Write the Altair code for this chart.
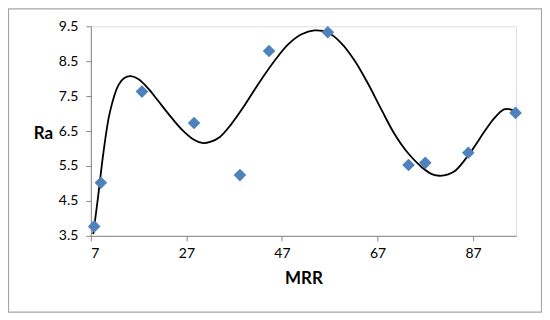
import altair as alt
import pandas as pd

# Scatter data (MRR vs Ra)
mrr = [7.7, 9.1, 17.7, 28.6, 38.2, 44.3, 56.6, 73.5, 77.0, 86.0, 95.9]
ra = [3.77, 5.02, 7.63, 6.73, 5.24, 8.79, 9.33, 5.53, 5.59, 5.88, 7.02]

# Trendline values
trend_x = [7.5, 8.5, 9.6, 11.0, 12.8, 14.0, 15.4, 17.0, 19.0, 21.0, 23.2, 26.0,
           28.5, 30.3, 32.0, 34.0, 36.4, 39.0, 42.3, 45.5, 48.3, 51.1, 53.8,
           56.6, 59.4, 62.2, 65.0, 67.8, 70.5, 73.2, 76.4, 78.5, 80.0, 81.8,
           83.4, 86.2, 89.7, 91.5, 93.5, 94.8, 95.9]
trend_y = [3.55, 4.6, 5.85, 7.05, 7.82, 8.02, 8.07, 7.98, 7.72, 7.38, 7.0, 6.55,
           6.26, 6.16, 6.19, 6.33, 6.7, 7.2, 7.9, 8.52, 8.98, 9.27, 9.38,
           9.32, 9.02, 8.52, 7.86, 7.12, 6.43, 5.9, 5.45, 5.26, 5.22, 5.26,
           5.38, 5.84, 6.55, 6.88, 7.12, 7.12, 7.05]

x_ticks = [7, 27, 47, 67, 87]
y_ticks = [3.5, 4.5, 5.5, 6.5, 7.5, 8.5, 9.5]

df = pd.DataFrame({"MRR": mrr, "Ra": ra})
tdf = pd.DataFrame({"MRR": trend_x, "Ra": trend_y})

W, H = 426, 210
PL, PT, PR, PB = 83, 18, 26, 77
FONT = "Lato"

xscale = alt.Scale(domain=[7, 96], nice=False, zero=False)
yscale = alt.Scale(domain=[3.5, 9.5], nice=False, zero=False)

xaxis = alt.Axis(values=x_ticks, tickCount=10, grid=False, title="MRR", tickSize=5,
                 domainColor="#868686", tickColor="#868686", labelFontSize=14,
                 labelColor="#000000", labelPadding=6, titleFontSize=17,
                 titleFontWeight="bold", titlePadding=10, labelFont=FONT,
                 titleFont=FONT, titleColor="#000000", labelOverlap=False)
yaxis = alt.Axis(values=y_ticks, tickCount=10, grid=False, title="Ra", tickSize=5,
                 domainColor="#868686", tickColor="#868686", labelFontSize=14,
                 labelColor="#000000", labelPadding=8, titleFontSize=17,
                 titleFontWeight="bold", titleAngle=0, titleAlign="center",
                 titleBaseline="middle", titleX=-48, titleY=107,
                 labelFont=FONT, titleFont=FONT, titleColor="#000000",
                 format=".1f", labelOverlap=False)

points = alt.Chart(df).mark_point(shape="diamond", filled=True, size=160,
                                  color="#4F81BD", opacity=1).encode(
    x=alt.X("MRR:Q", scale=xscale, axis=xaxis),
    y=alt.Y("Ra:Q", scale=yscale, axis=yaxis),
)

trend = alt.Chart(tdf).mark_line(
    color="black", strokeWidth=1.8, clip=True, interpolate="catmull-rom").encode(
    x=alt.X("MRR:Q", scale=xscale),
    y=alt.Y("Ra:Q", scale=yscale),
)

border = alt.Chart(pd.DataFrame({"a": [0]})).mark_rect(
    fill=None, stroke="#A6A6A6", strokeWidth=1.2).encode(
    x=alt.value(-PL + 0.5), x2=alt.value(W + PR - 0.5),
    y=alt.value(-PT + 0.5), y2=alt.value(H + PB - 0.5),
)

chart = alt.layer(border, trend, points).properties(
    width=W, height=H,
    autosize=alt.AutoSizeParams(type="none"),
    padding={"left": PL, "top": PT, "right": PR, "bottom": PB},
).configure_view(stroke=None).configure(background="white")

chart.save("out.html", embed_options={"renderer": "svg", "actions": False})
